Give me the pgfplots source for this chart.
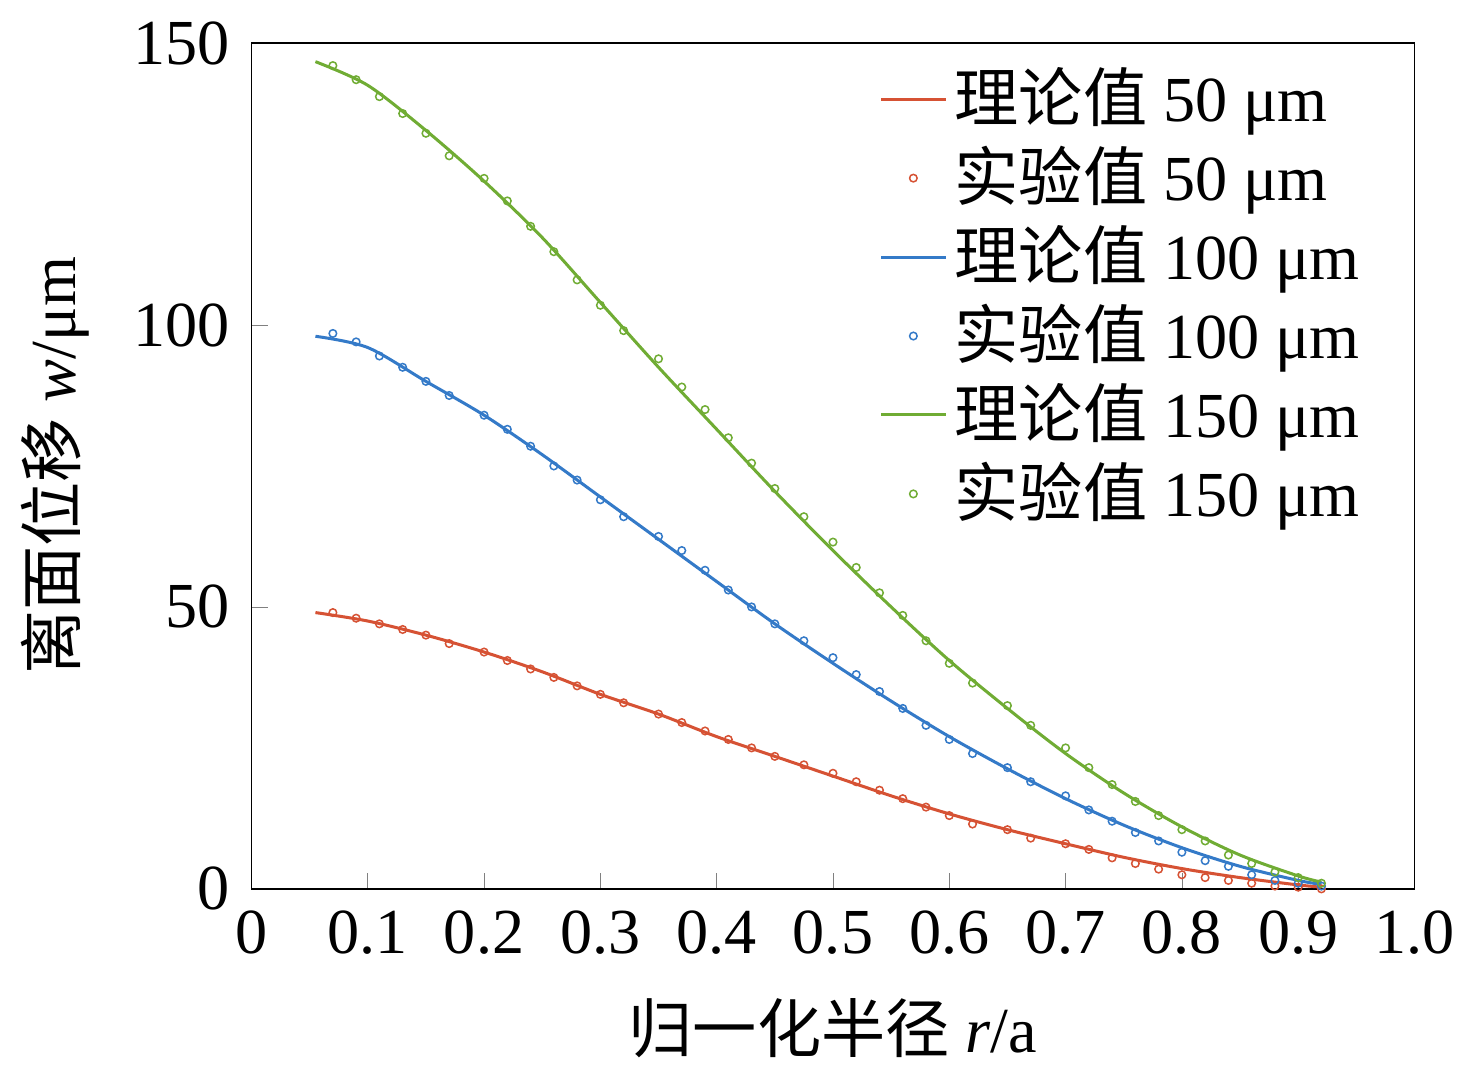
\documentclass[border=0pt]{standalone}
\usepackage{pgfplots}
\pgfplotsset{compat=1.18}
\usepackage{fontspec}
\setmainfont{Liberation Serif}
\newfontfamily\cjk{Noto Sans CJK SC}
\definecolor{cr}{RGB}{214,82,52}
\definecolor{cb}{RGB}{52,122,200}
\definecolor{cg}{RGB}{112,172,52}
\begin{document}
\fontsize{17}{20}\selectfont
\pgfplotstableread{
x g b r
0.07 146 98.5 49
0.09 143.5 97 48
0.11 140.5 94.5 47
0.13 137.5 92.5 46
0.15 134 90 45
0.17 130 87.5 43.5
0.2 126 84 42
0.22 122 81.5 40.5
0.24 117.5 78.5 39
0.26 113 75 37.5
0.28 108 72.5 36
0.3 103.5 69 34.5
0.32 99 66 33
0.35 94 62.5 31
0.37 89 60 29.5
0.39 85 56.5 28
0.41 80 53 26.5
0.43 75.5 50 25
0.45 71 47 23.5
0.475 66 44 22
0.5 61.5 41 20.5
0.52 57 38 19
0.54 52.5 35 17.5
0.56 48.5 32 16
0.58 44 29 14.5
0.6 40 26.5 13
0.62 36.5 24 11.5
0.65 32.5 21.5 10.5
0.67 29 19 9
0.7 25 16.5 8
0.72 21.5 14 7
0.74 18.5 12 5.5
0.76 15.5 10 4.5
0.78 13 8.5 3.5
0.8 10.5 6.5 2.5
0.82 8.5 5 2
0.84 6 4 1.5
0.86 4.5 2.5 1
0.88 3 1.5 0.5
0.9 2 1 0.3
0.92 1 0.5 0
}\data
\pgfplotstableread{
x g b r
0.055 146.7 98 49
0.1 142.5 96 47.5
0.15 134.5 90 45
0.2 125.5 84 42
0.25 115.5 77 38.5
0.3 104 69.5 34.5
0.35 92.5 62 31
0.4 81.5 54.5 27
0.45 70.5 47 23.5
0.5 60 40 20
0.55 50 33.3 16.5
0.6 40.5 27 13.3
0.65 32 21.3 10.5
0.7 24 16 8
0.75 17 11.3 5.6
0.8 11 7.3 3.6
0.85 6 4 2
0.9 2.3 1.5 0.7
0.92 1.2 0.8 0.3
}\theory
\begin{tikzpicture}
\begin{axis}[scale only axis, width=308pt, height=224pt,
 xmin=0, xmax=1, ymin=0, ymax=150,
 xtick={0,0.1,...,1.0}, xticklabels={0,0.1,0.2,0.3,0.4,0.5,0.6,0.7,0.8,0.9,1.0},
 ytick={0,50,100,150},
 tick align=inside, xtick pos=bottom, ytick pos=left,
 /pgf/number format/assume math mode=true,
 ticklabel style={font=\fontsize{17}{20}\selectfont},
 xlabel={{\cjk 归一化半径} \textit{r}/a},
 ylabel={{\cjk 离面位移} \textit{w}/μm},
 label style={font=\fontsize{17}{20}\selectfont},
 legend style={draw=none, fill=none, at={(0.97,0.99)}, anchor=north east, row sep=0pt,
   font=\fontsize{17}{20}\selectfont},
 legend cell align=left,
]
\addplot[cr, thick, smooth] table[x=x,y=r]{\theory};
\addlegendentry{{\cjk 理论值} 50 μm}
\addplot[cr, only marks, mark=o, mark size=1pt] table[x=x,y=r]{\data};
\addlegendentry{{\cjk 实验值} 50 μm}
\addplot[cb, thick, smooth] table[x=x,y=b]{\theory};
\addlegendentry{{\cjk 理论值} 100 μm}
\addplot[cb, only marks, mark=o, mark size=1pt] table[x=x,y=b]{\data};
\addlegendentry{{\cjk 实验值} 100 μm}
\addplot[cg, thick, smooth] table[x=x,y=g]{\theory};
\addlegendentry{{\cjk 理论值} 150 μm}
\addplot[cg, only marks, mark=o, mark size=1pt] table[x=x,y=g]{\data};
\addlegendentry{{\cjk 实验值} 150 μm}
\end{axis}
\end{tikzpicture}
\end{document}
